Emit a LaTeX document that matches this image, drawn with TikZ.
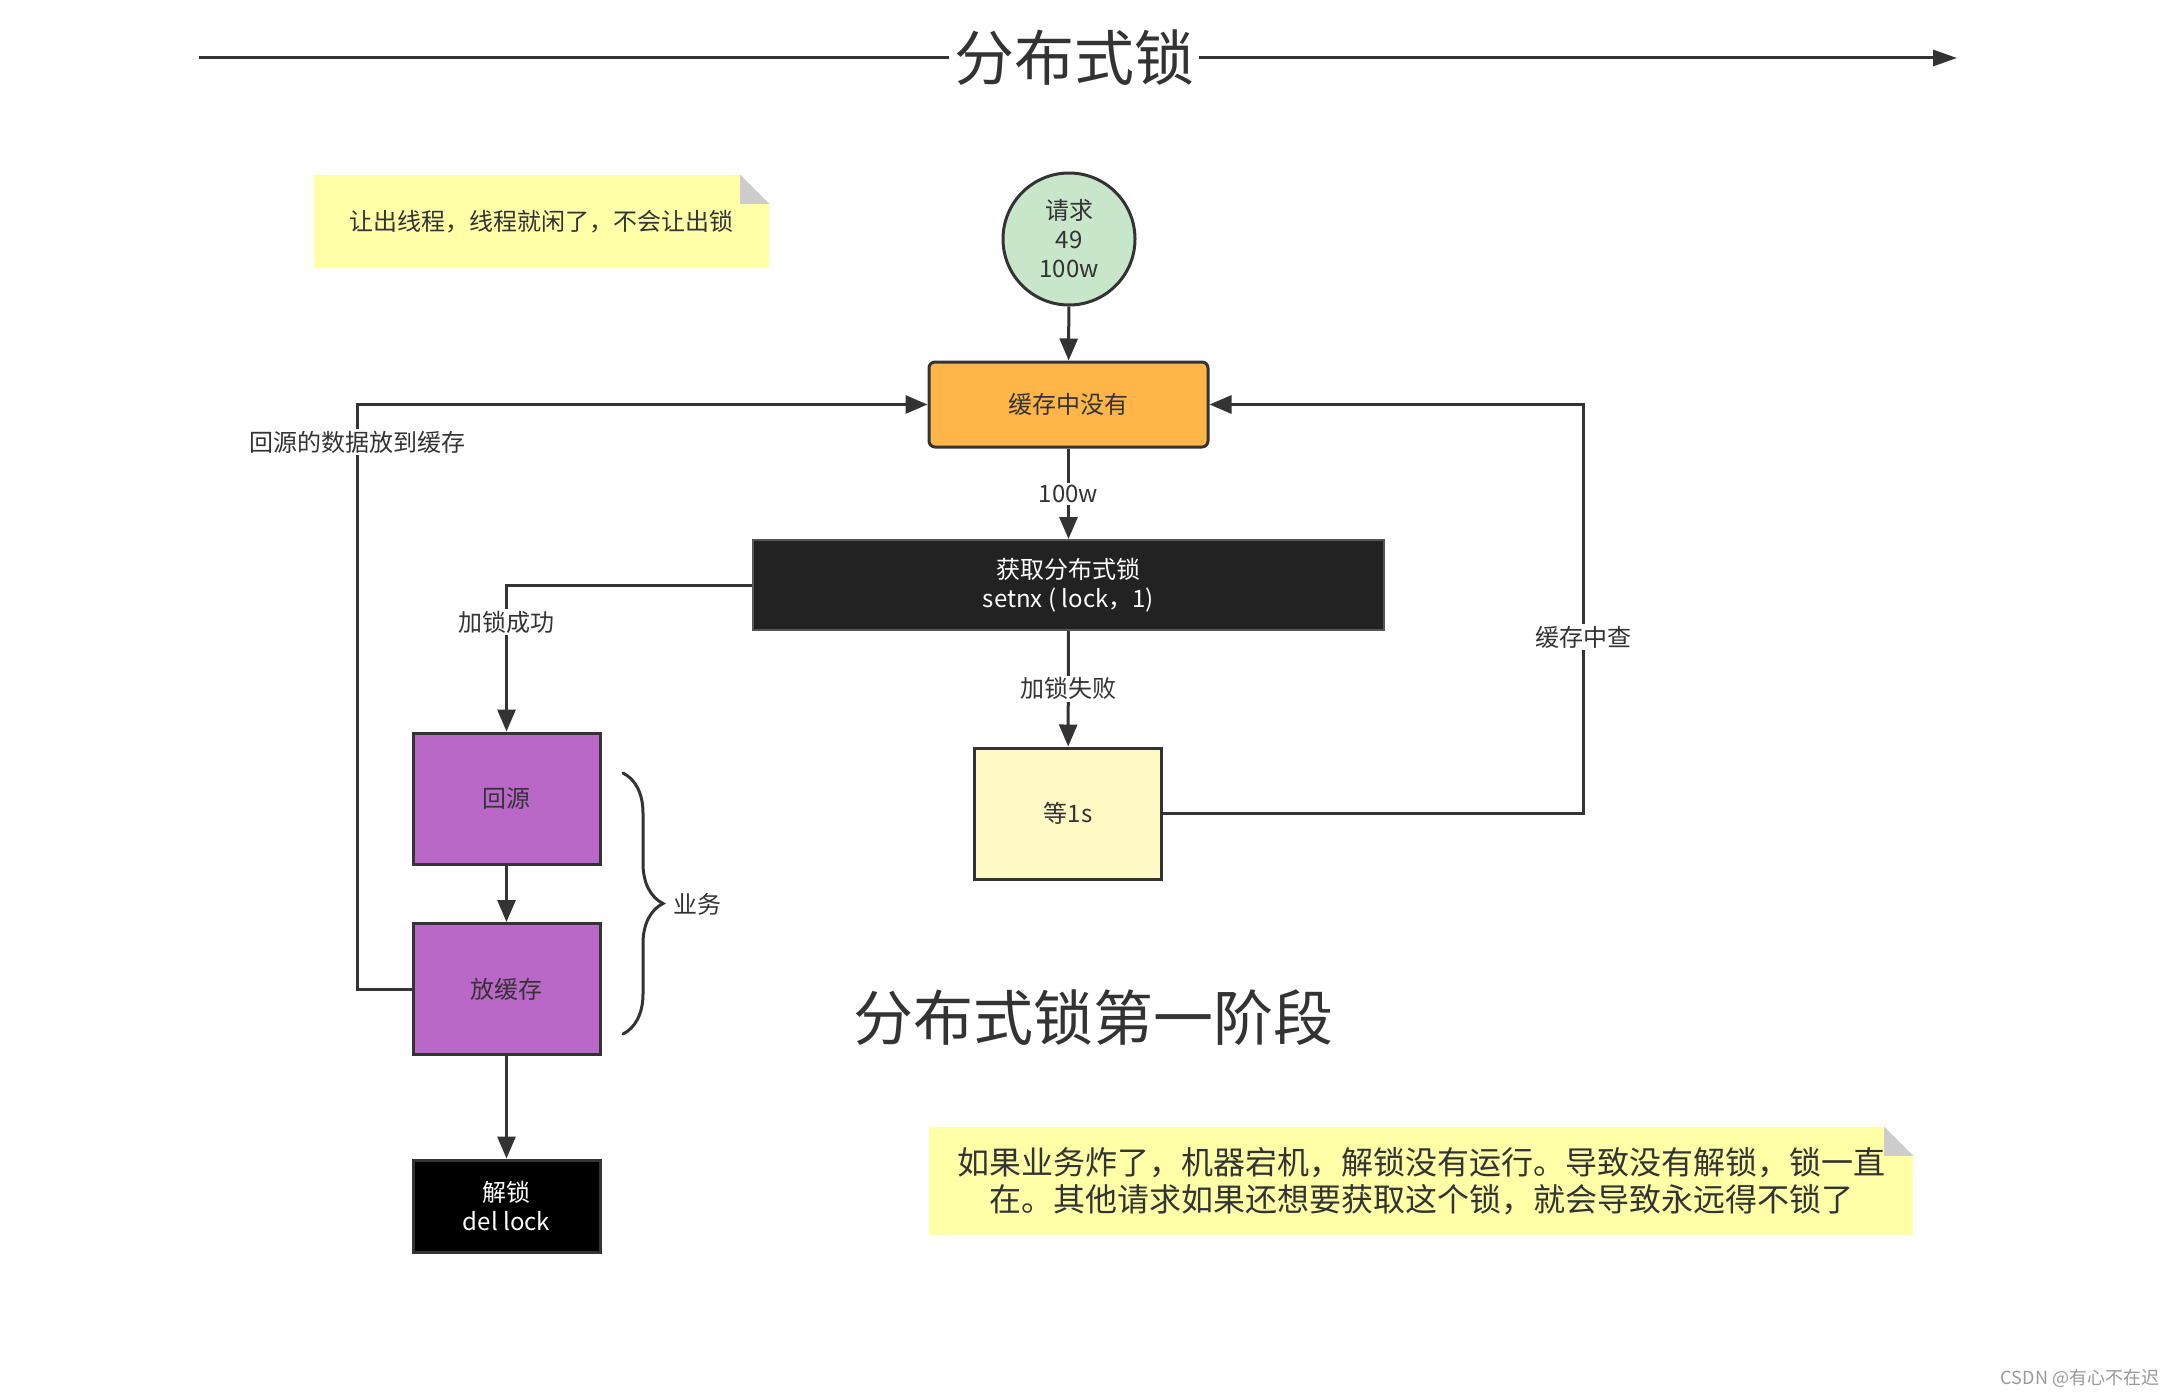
\documentclass[tikz,border=0pt]{standalone}
\usepackage{fontspec}
\setmainfont{Noto Sans CJK SC}
\usetikzlibrary{arrows.meta,backgrounds,decorations.pathreplacing,calc}
\definecolor{ln}{HTML}{333333}
\definecolor{cgreen}{HTML}{C8E6C9}
\definecolor{corange}{HTML}{FFB547}
\definecolor{cdark}{HTML}{222222}
\definecolor{cdarkb}{HTML}{555555}
\definecolor{cpurple}{HTML}{BA68C8}
\definecolor{cyellow}{HTML}{FFF9C4}
\definecolor{cnote}{HTML}{FFFFA8}
\definecolor{cfold}{HTML}{CCCCCC}
\begin{document}
\begin{tikzpicture}[x=1pt,y=-1pt,
  f24/.style={font=\fontsize{24pt}{29pt}\selectfont},
  f60/.style={font=\fontsize{60pt}{70pt}\selectfont},
  conn/.style={draw=ln, line width=3pt},
  arr/.style={conn, -{Triangle[length=22pt,width=18pt]}},
  box/.style={draw=ln, line width=3pt, minimum width=187pt, minimum height=131pt, text=ln, f24, align=center, inner sep=0pt},
  lbl/.style={fill=white, text=ln, f24, inner sep=2pt},
  notebox/.style={text=ln, align=center, inner sep=0pt}
]
\useasboundingbox (0,0) rectangle (2181,1397);
\begin{scope}[on background layer]
\fill[white] (0,0) rectangle (2181,1397);
\end{scope}

% title
\node[f60, text=ln, inner sep=5pt] (title) at (1074,58) {分布式锁};
\coordinate (tl) at (199,58);
\coordinate (tr) at (1957,58);
\draw[conn] (tl) -- (title.west);
\draw[conn, -{Triangle[length=24pt,width=16pt]}] (title.east) -- (tr);

% note 1
\node[notebox, f24, minimum width=455pt, minimum height=93pt] (note1) at (541.5,221.5) {让出线程，线程就闲了，不会让出锁};
\begin{scope}[on background layer]
\fill[cnote] (note1.north west) -- ($(note1.north east)+(-29,0)$) -- ($(note1.north east)+(0,29)$) -- (note1.south east) -- (note1.south west) -- cycle;
\fill[cfold] ($(note1.north east)+(-29,0)$) -- ($(note1.north east)+(-29,29)$) -- ($(note1.north east)+(0,29)$) -- cycle;
\end{scope}

% nodes
\node[circle, draw=ln, line width=3pt, fill=cgreen, minimum size=132pt, inner sep=0pt, align=center, f24, text=ln] (req) at (1069,239) {请求\\49\\100w};
\node[box, fill=corange, rounded corners=6pt, minimum width=279pt, minimum height=85pt] (cache) at (1068.5,404.5) {缓存中没有};
\node[box, fill=cdark, draw=cdarkb, line width=2pt, text=white, minimum width=631pt, minimum height=90pt] (get) at (1068.5,585) {获取分布式锁\\setnx ( lock，1)};
\node[box, fill=cpurple] (hy) at (506.5,798.5) {回源};
\node[box, fill=cpurple] (fhc) at (506.5,989) {放缓存};
\node[box, fill=black, text=white, minimum height=92pt] (unlock) at (506.5,1206) {解锁\\del lock};
\node[box, fill=cyellow] (wait) at (1068,813.5) {等1s};

\coordinate (lc) at (357.5,404.5);
\coordinate (rc) at (1583,404.5);

% connectors
\draw[arr] (req) -- (cache);
\draw[arr] (cache) -- node[lbl] (l100) {100w} (get);
\draw[arr] (get) -- node[lbl] (lfail) {加锁失败} (wait);
\draw[arr] (get.west) -| (hy.north);
\draw[arr] (hy) -- (fhc);
\draw[arr] (fhc) -- (unlock);
\draw[arr] (fhc.west) -| (lc) -- (cache.west);
\draw[arr] (wait.east) -| (rc) -- (cache.east);

\node[lbl] (lsucc) at (506.5,622) {加锁成功};
\node[lbl] (lback) at (357.5,442) {回源的数据放到缓存};
\node[lbl] (lchk) at (1583,637) {缓存中查};

% brace
\draw[conn, line cap=round, decorate, decoration={brace, amplitude=40pt}] (623,773) -- (623,1034);
\node[f24, text=ln, anchor=west, inner sep=0pt] (biz) at (673,904) {业务};

% stage title
\node[f60, text=ln] (stage) at (1093,1018) {分布式锁第一阶段};

% note 2
\node[notebox, font=\fontsize{32pt}{37pt}\selectfont, minimum width=984pt, minimum height=108pt] (note2) at (1421,1181) {如果业务炸了，机器宕机，解锁没有运行。导致没有解锁，锁一直\\在。其他请求如果还想要获取这个锁，就会导致永远得不锁了};
\begin{scope}[on background layer]
\fill[cnote] (note2.north west) -- ($(note2.north east)+(-29,0)$) -- ($(note2.north east)+(0,29)$) -- (note2.south east) -- (note2.south west) -- cycle;
\fill[cfold] ($(note2.north east)+(-29,0)$) -- ($(note2.north east)+(-29,29)$) -- ($(note2.north east)+(0,29)$) -- cycle;
\end{scope}

% footer
\node[font=\fontsize{18pt}{20pt}\selectfont, text=gray!80, inner sep=0pt] (csdn) at (2080,1378) {CSDN @有心不在迟};
\end{tikzpicture}
\end{document}
